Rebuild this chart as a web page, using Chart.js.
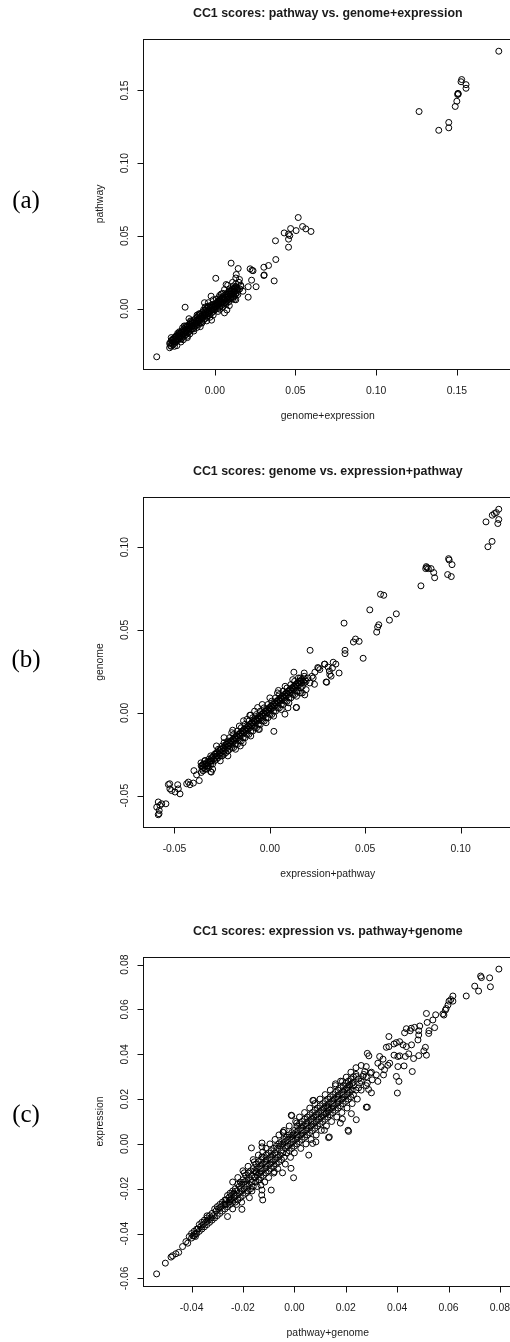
<!DOCTYPE html>
<html><head><meta charset="utf-8">
<script src="https://cdn.jsdelivr.net/npm/chart.js@4.4.0/dist/chart.umd.min.js"></script>
<style>
html,body{margin:0;padding:0;background:#fff;width:510px;height:1342px;overflow:hidden;position:relative}
canvas{position:absolute;left:0}
</style></head><body>
<canvas id="ca" width="520" height="440" style="top:0px"></canvas>
<canvas id="cb" width="520" height="440" style="top:440px"></canvas>
<canvas id="cc" width="520" height="462" style="top:880px"></canvas>
<script>
// ---------- Panel (a): pathway vs. genome+expression ----------
const titleA = "CC1 scores: pathway vs. genome+expression";
const xLabelA = "genome+expression";
const yLabelA = "pathway";
const xTicksA = [0, 0.05, 0.10, 0.15];
const xTickLabelsA = ["0.00", "0.05", "0.10", "0.15"];
const yTicksA = [0, 0.05, 0.10, 0.15];
const yTickLabelsA = ["0.00", "0.05", "0.10", "0.15"];
const pointsA = [
 [0.176,0.177],[0.153,0.1575],[0.1526,0.156],[0.1557,0.154],[0.1557,0.1515],[0.1507,0.148],[0.1505,0.1472],[0.1509,0.1476],
 [0.150,0.1426],[0.149,0.139],[0.1266,0.1355],[0.145,0.128],[0.145,0.1243],[0.1388,0.1226],
 [0.0517,0.0626],[0.0544,0.0564],[0.047,0.055],[0.0564,0.0548],[0.0504,0.0536],[0.0596,0.053],[0.043,0.052],[0.0457,0.0512],
 [0.0465,0.0502],[0.0457,0.0477],[0.0376,0.0466],[0.0457,0.0422],[0.0378,0.0337],[0.0333,0.0296],[0.0304,0.0284],[0.0304,0.0227],
 [0.0306,0.0231],[0.0368,0.019],[0.0219,0.0273],[0.0231,0.0263],[0.0237,0.026],[0.0228,0.0195],[0.0256,0.015],[0.0207,0.015],
 [0.0207,0.0078],[0.0101,0.0312],[0.0145,0.0275],[0.0006,0.0208],[-0.0184,0.0009],[-0.036,-0.0332],
 [0.007,0.0165],[0.0133,0.0234],[0.0153,0.020],[0.0163,0.0153],[0.0143,0.0096],[0.0174,0.0119],[0.0122,0.0062],[-0.0023,0.0085],
 [-0.0064,0.004],[0.006,-0.003],[-0.002,-0.008],[0.0075,-0.001],[0.009,0.002],[-0.020,-0.0133],[-0.0259,-0.0213],
 [-0.022,-0.016],[-0.017,-0.019],[-0.015,-0.009],[-0.013,-0.014],[-0.016,-0.007],[-0.008,-0.010],[-0.006,0.001],[-0.004,0.004],
 [-0.003,-0.006],[-0.001,0.006],[0.002,-0.002],[0.003,0.009],[0.005,0.001],[0.007,0.004],[0.008,0.016],[0.010,0.007],
 [0.011,0.018],[0.012,0.008],[0.013,0.021],[0.015,0.018],[0.016,0.016],[0.013,0.006],[0.004,0.010],[0.006,0.013],
 [-0.010,-0.004],[-0.018,-0.012],[-0.024,-0.019],[-0.011,-0.013],
 [-0.028,-0.027],[-0.028,-0.024],[-0.027,-0.026],[-0.027,-0.022],[-0.026,-0.025],[-0.026,-0.021],[-0.026,-0.023],
 [-0.025,-0.024],[-0.025,-0.020],[-0.024,-0.023],[-0.024,-0.019],[-0.024,-0.021],[-0.023,-0.022],[-0.023,-0.018],
 [-0.022,-0.021],[-0.022,-0.017],[-0.022,-0.019],[-0.021,-0.021],[-0.021,-0.016],[-0.020,-0.020],[-0.020,-0.015],[-0.020,-0.018],
 [-0.019,-0.019],[-0.019,-0.014],[-0.018,-0.018],[-0.018,-0.013],[-0.018,-0.016],[-0.017,-0.017],[-0.017,-0.012],
 [-0.016,-0.016],[-0.016,-0.011],[-0.016,-0.014],[-0.015,-0.015],[-0.015,-0.010],[-0.014,-0.014],[-0.014,-0.009],[-0.014,-0.012],
 [-0.013,-0.013],[-0.013,-0.008],[-0.012,-0.012],[-0.012,-0.007],[-0.012,-0.010],[-0.011,-0.011],[-0.011,-0.006],
 [-0.010,-0.011],[-0.010,-0.005],[-0.010,-0.008],[-0.009,-0.010],[-0.009,-0.004],[-0.008,-0.009],[-0.008,-0.003],[-0.008,-0.006],
 [-0.007,-0.008],[-0.007,-0.002],[-0.006,-0.007],[-0.006,-0.001],[-0.006,-0.004],[-0.005,-0.006],[-0.005,0.000],
 [-0.004,-0.005],[-0.004,0.001],[-0.004,-0.003],[-0.003,-0.004],[-0.003,0.001],[-0.002,-0.003],[-0.002,0.002],[-0.002,-0.001],
 [-0.001,-0.002],[-0.001,0.003],[0.000,-0.001],[0.000,0.003],[0.000,0.001],[0.001,0.000],[0.001,0.004],
 [0.002,0.000],[0.002,0.005],[0.002,0.003],[0.003,0.001],[0.003,0.006],[0.004,0.002],[0.004,0.007],[0.004,0.004],
 [0.005,0.003],[0.005,0.008],[0.006,0.004],[0.006,0.009],[0.006,0.006],[0.007,0.005],[0.007,0.010],
 [0.008,0.006],[0.008,0.011],[0.008,0.008],[0.009,0.007],[0.009,0.012],[0.010,0.007],[0.010,0.012],[0.010,0.010],
 [0.011,0.008],[0.011,0.013],[0.012,0.009],[0.012,0.014],[0.012,0.011],[0.013,0.010],[0.013,0.015],[0.014,0.011],[0.014,0.014]
];
const bandFillA = [
 [-0.0275,-0.0255],[-0.0275,-0.0235],[-0.0265,-0.024],[-0.0265,-0.022],[-0.0255,-0.023],[-0.0255,-0.021],[-0.0245,-0.0225],[-0.0245,-0.0195],
 [-0.0235,-0.0215],[-0.0235,-0.0195],[-0.0225,-0.020],[-0.0225,-0.0185],[-0.0215,-0.0195],[-0.0215,-0.0175],[-0.0205,-0.0185],[-0.0205,-0.0165],
 [-0.0195,-0.0175],[-0.0195,-0.016],[-0.0185,-0.017],[-0.0185,-0.015],[-0.0175,-0.0155],[-0.0175,-0.014],[-0.0165,-0.015],[-0.0165,-0.013],
 [-0.0155,-0.0135],[-0.0155,-0.012],[-0.0145,-0.013],[-0.0145,-0.011],[-0.0135,-0.0115],[-0.0135,-0.010],[-0.0125,-0.011],[-0.0125,-0.009],
 [-0.0115,-0.010],[-0.0115,-0.0085],[-0.0105,-0.009],[-0.0105,-0.0075],[-0.0095,-0.0085],[-0.0095,-0.0065],[-0.0085,-0.007],[-0.0085,-0.0055],
 [-0.0075,-0.0065],[-0.0075,-0.0045],[-0.0065,-0.005],[-0.0065,-0.0035],[-0.0055,-0.0045],[-0.0055,-0.003],[-0.0045,-0.0035],[-0.0045,-0.002],
 [-0.0035,-0.0025],[-0.0035,-0.001],[-0.0025,-0.0015],[-0.0025,0.000],[-0.0015,-0.001],[-0.0015,0.001],[-0.0005,0.000],[-0.0005,0.0015],
 [0.0005,0.001],[0.0005,0.0025],[0.0015,0.002],[0.0015,0.0035],[0.0025,0.003],[0.0025,0.0045],[0.0035,0.004],[0.0035,0.0055],
 [0.0045,0.0045],[0.0045,0.0065],[0.0055,0.0055],[0.0055,0.007],[0.0065,0.0065],[0.0065,0.008],[0.0075,0.0075],[0.0075,0.009],
 [0.0085,0.0085],[0.0085,0.010],[0.0095,0.0095],[0.0095,0.011],[0.0105,0.010],[0.0105,0.012],[0.0115,0.011],[0.0115,0.013],
 [0.0125,0.012],[0.0125,0.0135],[0.0135,0.0125],[0.0135,0.0145]
];
const spreadA = [
 [-0.027,-0.020],[-0.025,-0.026],[-0.023,-0.017],[-0.021,-0.023],[-0.019,-0.012],[-0.017,-0.020],[-0.015,-0.0085],[-0.013,-0.0155],
 [-0.011,-0.0045],[-0.009,-0.0125],[-0.007,-0.001],[-0.005,-0.0085],[-0.003,0.002],[-0.001,-0.0045],[0.001,0.0065],[0.003,-0.0005],
 [0.005,0.0105],[0.007,0.003],[0.009,0.0135],[0.011,0.0065],[0.013,0.017],[-0.0235,-0.0255],[-0.0195,-0.0215],[-0.0155,-0.0175],
 [-0.0095,-0.0035],[-0.0045,0.0015],[0.0025,0.0075],[0.0085,0.0045],[0.0115,0.0155],[0.0145,0.0125],[0.0155,0.0135]
];

// ---------- Panel (b): genome vs. expression+pathway ----------
const titleB = "CC1 scores: genome vs. expression+pathway";
const xLabelB = "expression+pathway";
const yLabelB = "genome";
const xTicksB = [-0.05, 0, 0.05, 0.10];
const xTickLabelsB = ["-0.05", "0.00", "0.05", "0.10"];
const yTicksB = [-0.05, 0, 0.05, 0.10];
const yTickLabelsB = ["-0.05", "0.00", "0.05", "0.10"];
const pointsB = [
 [0.120,0.1228],[0.1187,0.1208],[0.1177,0.1202],[0.1166,0.1192],[0.120,0.1166],[0.1195,0.1142],[0.1133,0.1152],[0.1165,0.1034],
 [0.1143,0.1002],[0.0937,0.093],[0.094,0.0922],[0.0955,0.0894],[0.0932,0.0834],[0.0951,0.0822],[0.082,0.0882],[0.0824,0.0876],
 [0.0817,0.087],[0.0831,0.087],[0.0845,0.087],[0.0859,0.0846],[0.0864,0.0815],[0.0792,0.0766],[0.058,0.0715],[0.0597,0.0709],
 [0.0524,0.0621],[0.0663,0.0597],[0.0627,0.0559],[0.0389,0.0541],[0.0571,0.0531],[0.0565,0.0517],[0.056,0.0487],[0.0449,0.0445],
 [0.0468,0.0431],[0.0438,0.0427],[0.0489,0.0329],[0.0394,0.0377],[0.0394,0.0357],[0.0211,0.0377],[0.0288,0.0294],[0.0332,0.0305],
 [0.0346,0.0294],[0.0328,0.027],[0.0305,0.0276],[0.0255,0.027],[0.0262,0.0261],[0.0363,0.024],[0.0314,0.0231],[0.0321,0.0221],
 [0.0298,0.0184],[0.0126,0.0245],[0.0236,0.0245],[0.0227,0.021],[0.0286,0.0293],[0.0295,0.0186],[0.0312,0.0252],[0.0234,0.0172],
 [0.0251,0.0273],
 [-0.0585,-0.0538],[-0.0567,-0.0549],[-0.0545,-0.0549],[-0.0593,-0.0569],[-0.058,-0.0589],[-0.0585,-0.0615],[-0.0576,-0.0559],[-0.0581,-0.0609],
 [-0.0532,-0.0433],[-0.0515,-0.0469],[-0.0497,-0.0478],[-0.048,-0.0459],[-0.0483,-0.0434],[-0.0524,-0.0459],[-0.0471,-0.0489],[-0.0525,-0.0428],
 [-0.0436,-0.0428],[-0.0427,-0.0418],[-0.0419,-0.0434],[-0.0401,-0.0424],[-0.0398,-0.0349],[-0.037,-0.0409],[-0.0384,-0.0374],
 [-0.0361,-0.0302],[-0.034,-0.0288],[-0.031,-0.0355],[-0.0307,-0.0358],
 [0.0021,-0.0112],[0.014,0.0032],[0.0079,-0.0008],[0.0183,0.0108],[-0.0101,-0.0014],[-0.0064,0.0032],[-0.0138,-0.0048],[0.0138,0.0032],
 [0.019,0.014],[0.021,0.018],[0.018,0.024],[0.016,0.021],[0.022,0.022],[0.017,0.012],
 [-0.036,-0.036],[-0.036,-0.032],[-0.035,-0.035],[-0.035,-0.031],[-0.035,-0.033],[-0.034,-0.034],[-0.034,-0.029],
 [-0.033,-0.034],[-0.033,-0.030],[-0.033,-0.032],[-0.032,-0.033],[-0.032,-0.028],[-0.031,-0.031],[-0.031,-0.026],[-0.031,-0.029],
 [-0.030,-0.031],[-0.030,-0.027],[-0.029,-0.029],[-0.029,-0.025],[-0.028,-0.028],[-0.028,-0.024],[-0.028,-0.026],
 [-0.027,-0.027],[-0.027,-0.022],[-0.026,-0.026],[-0.026,-0.022],[-0.026,-0.024],[-0.025,-0.026],[-0.025,-0.020],
 [-0.024,-0.025],[-0.024,-0.021],[-0.024,-0.018],[-0.023,-0.024],[-0.023,-0.019],[-0.022,-0.023],[-0.022,-0.020],[-0.022,-0.017],
 [-0.021,-0.022],[-0.021,-0.018],[-0.021,-0.015],[-0.020,-0.021],[-0.020,-0.017],[-0.019,-0.021],[-0.019,-0.016],[-0.019,-0.013],
 [-0.018,-0.019],[-0.018,-0.015],[-0.017,-0.019],[-0.017,-0.014],[-0.017,-0.011],[-0.016,-0.017],[-0.016,-0.013],
 [-0.015,-0.017],[-0.015,-0.012],[-0.015,-0.009],[-0.014,-0.015],[-0.014,-0.011],[-0.013,-0.015],[-0.013,-0.010],[-0.013,-0.007],
 [-0.012,-0.013],[-0.012,-0.009],[-0.011,-0.013],[-0.011,-0.008],[-0.011,-0.005],[-0.010,-0.011],[-0.010,-0.007],
 [-0.009,-0.011],[-0.009,-0.006],[-0.009,-0.003],[-0.008,-0.009],[-0.008,-0.005],[-0.007,-0.009],[-0.007,-0.004],[-0.007,-0.001],
 [-0.006,-0.007],[-0.006,-0.003],[-0.005,-0.007],[-0.005,-0.002],[-0.005,0.001],[-0.004,-0.005],[-0.004,-0.001],
 [-0.003,-0.005],[-0.003,0.000],[-0.003,0.003],[-0.002,-0.003],[-0.002,0.001],[-0.001,-0.003],[-0.001,0.002],[-0.001,0.005],
 [0.000,-0.001],[0.000,0.003],[0.001,-0.001],[0.001,0.004],[0.001,0.007],[0.002,0.001],[0.002,0.005],
 [0.003,0.001],[0.003,0.006],[0.003,0.009],[0.004,0.003],[0.004,0.007],[0.005,0.003],[0.005,0.008],[0.005,0.011],
 [0.006,0.005],[0.006,0.009],[0.007,0.005],[0.007,0.010],[0.007,0.013],[0.008,0.007],[0.008,0.011],
 [0.009,0.007],[0.009,0.012],[0.009,0.015],[0.010,0.009],[0.010,0.013],[0.011,0.009],[0.011,0.014],[0.011,0.017],
 [0.012,0.011],[0.012,0.015],[0.013,0.011],[0.013,0.016],[0.013,0.019],[0.014,0.013],[0.014,0.017],
 [0.015,0.013],[0.015,0.018],[0.015,0.021],[0.016,0.015],[0.016,0.019],[0.017,0.016],[0.017,0.020],[0.018,0.018],[0.018,0.022],
 [0.019,0.019],[0.020,0.021]
];
const bandFillB = [
 [-0.0355,-0.034],[-0.0355,-0.032],[-0.0345,-0.033],[-0.0345,-0.031],[-0.0335,-0.031],[-0.0325,-0.030],[-0.0325,-0.032],[-0.0315,-0.029],
 [-0.0315,-0.030],[-0.0305,-0.029],[-0.0305,-0.027],[-0.0295,-0.028],[-0.0295,-0.026],[-0.0285,-0.027],[-0.0285,-0.025],[-0.0275,-0.026],
 [-0.0275,-0.024],[-0.0265,-0.025],[-0.0265,-0.023],[-0.0255,-0.024],[-0.0255,-0.022],[-0.0245,-0.023],[-0.0245,-0.021],[-0.0235,-0.022],
 [-0.0235,-0.020],[-0.0225,-0.021],[-0.0225,-0.019],[-0.0215,-0.020],[-0.0215,-0.018],[-0.0205,-0.019],[-0.0205,-0.017],[-0.0195,-0.018],
 [-0.0195,-0.016],[-0.0185,-0.017],[-0.0185,-0.015],[-0.0175,-0.016],[-0.0175,-0.014],[-0.0165,-0.015],[-0.0165,-0.013],[-0.0155,-0.014],
 [-0.0155,-0.012],[-0.0145,-0.013],[-0.0145,-0.011],[-0.0135,-0.012],[-0.0135,-0.010],[-0.0125,-0.011],[-0.0125,-0.009],[-0.0115,-0.010],
 [-0.0115,-0.008],[-0.0105,-0.009],[-0.0105,-0.007],[-0.0095,-0.008],[-0.0095,-0.006],[-0.0085,-0.007],[-0.0085,-0.005],[-0.0075,-0.006],
 [-0.0075,-0.004],[-0.0065,-0.005],[-0.0065,-0.003],[-0.0055,-0.004],[-0.0055,-0.002],[-0.0045,-0.003],[-0.0045,-0.001],[-0.0035,-0.002],
 [-0.0035,0.000],[-0.0025,-0.001],[-0.0025,0.001],[-0.0015,0.000],[-0.0015,0.002],[-0.0005,0.001],[-0.0005,0.003],[0.0005,0.002],
 [0.0005,0.004],[0.0015,0.003],[0.0015,0.005],[0.0025,0.004],[0.0025,0.006],[0.0035,0.005],[0.0035,0.007],[0.0045,0.006],
 [0.0045,0.008],[0.0055,0.007],[0.0055,0.009],[0.0065,0.008],[0.0065,0.010],[0.0075,0.009],[0.0075,0.011],[0.0085,0.010],
 [0.0085,0.012],[0.0095,0.011],[0.0095,0.013],[0.0105,0.012],[0.0105,0.014],[0.0115,0.013],[0.0115,0.015],[0.0125,0.014],
 [0.0125,0.016],[0.0135,0.015],[0.0135,0.017],[0.0145,0.016],[0.0145,0.018],[0.0155,0.017],[0.0155,0.019],[0.0165,0.018],
 [0.0165,0.020],[0.0175,0.019],[0.0185,0.020]
];
const spreadB = [
 [-0.030,-0.034],[-0.028,-0.020],[-0.026,-0.029],[-0.024,-0.015],[-0.022,-0.026],[-0.020,-0.012],[-0.018,-0.022],[-0.016,-0.008],
 [-0.014,-0.018],[-0.012,-0.004],[-0.010,-0.014],[-0.008,0.001],[-0.006,-0.010],[-0.004,0.005],[-0.002,-0.006],[0.000,0.009],
 [0.002,-0.002],[0.004,0.012],[0.006,0.002],[0.008,0.016],[0.010,0.006],[0.012,0.020],[0.014,0.010],[0.016,0.012],
 [-0.0195,-0.0105],[-0.0155,-0.020],[-0.0105,-0.0015],[-0.0055,-0.010],[0.0045,0.0135],[0.0095,0.003]
];

// ---------- Panel (c): expression vs. pathway+genome ----------
const titleC = "CC1 scores: expression vs. pathway+genome";
const xLabelC = "pathway+genome";
const yLabelC = "expression";
const xTicksC = [-0.04, -0.02, 0, 0.02, 0.04, 0.06, 0.08];
const xTickLabelsC = ["-0.04", "-0.02", "0.00", "0.02", "0.04", "0.06", "0.08"];
const yTicksC = [-0.06, -0.04, -0.02, 0, 0.02, 0.04, 0.06, 0.08];
const yTickLabelsC = ["-0.06", "-0.04", "-0.02", "0.00", "0.02", "0.04", "0.06", "0.08"];
const pointsC = [
 [0.0796,0.078],[0.0725,0.0749],[0.0728,0.0742],[0.076,0.0741],[0.0763,0.0701],[0.0702,0.0704],[0.0717,0.0682],[0.0669,0.066],
 [0.0617,0.066],[0.0609,0.0644],[0.0602,0.0637],[0.0617,0.0637],[0.0598,0.062],[0.0591,0.0604],[0.0588,0.0597],[0.0578,0.058],
 [0.0582,0.0575],[0.0514,0.0582],[0.055,0.0576],[0.0539,0.0553],[0.0517,0.0542],[0.0546,0.0519],[0.0524,0.0505],[0.0523,0.0493],
 [0.0488,0.0526],[0.0468,0.052],[0.0455,0.0516],[0.0436,0.0514],[0.0429,0.0496],[0.0451,0.0505],[0.0484,0.0505],[0.0484,0.0486],
 [0.0481,0.0464],[0.051,0.0431],[0.0504,0.0415],[0.0514,0.0396],[0.0484,0.0394],[0.0464,0.0381],[0.0459,0.0323],
 [0.0368,0.0479],[0.0388,0.0446],[0.0397,0.0452],[0.041,0.0456],[0.0423,0.0442],[0.0436,0.0434],[0.0456,0.0442],[0.0445,0.0402],
 [0.0432,0.039],[0.041,0.0393],[0.0403,0.039],[0.0368,0.0434],[0.0358,0.0431],[0.0388,0.0396],[0.0371,0.036],[0.0364,0.0351],
 [0.0345,0.0378],[0.0332,0.039],[0.0325,0.036],[0.0338,0.0345],[0.0351,0.0331],[0.0347,0.0308],[0.0403,0.0345],[0.0397,0.0301],
 [0.0407,0.0279],[0.0401,0.0227],[0.0427,0.0348],[0.0284,0.0404],[0.029,0.0393],[0.028,0.0345],[0.0274,0.0323],[0.0296,0.0316],
 [0.0319,0.0308],[0.0325,0.0279],[0.0303,0.0286],[0.0284,0.0271],[0.0289,0.0243],[0.030,0.0228],[0.0284,0.0164],[0.0267,0.0301],
 [0.0241,0.0301],[0.0254,0.0271],[0.016,0.0268],[0.0202,0.0298],[0.0187,0.0279],[0.0215,0.0264],[0.0228,0.0274],[0.0075,0.0194],
 [0.0241,0.0108],[0.0211,0.0056],[0.0222,0.0135],[0.0179,0.0093],[0.0187,0.0111],
 [-0.0536,-0.058],[-0.0502,-0.0532],[-0.0474,-0.0499],[-0.048,-0.0505],[-0.0461,-0.049],[-0.045,-0.0484],[-0.0435,-0.0458],
 [-0.0422,-0.0436],[-0.0409,-0.0413],[-0.0415,-0.0443],[-0.0385,-0.0413],
 [-0.001,0.0126],[-0.0043,0.0051],[0.0009,0.0093],[-0.0167,-0.0018],[-0.0126,0.0004],[-0.0126,-0.0013],[-0.0123,-0.0036],
 [-0.0126,-0.0058],[-0.0127,-0.0228],[-0.0126,-0.0206],[-0.0123,-0.025],[-0.013,-0.0184],[-0.0136,-0.0161],[-0.009,-0.0206],
 [-0.0195,-0.0129],[-0.0204,-0.0292],[-0.026,-0.0324],[-0.034,-0.0321],[-0.0046,-0.0129],[-0.0003,-0.0151],[-0.0013,-0.0109],
 [-0.0078,-0.0124],[0.0056,-0.005],[0.0136,0.0031],[0.0117,0.0061],[0.0084,0.0009],[0.0071,0.0002],[0.0123,0.0135],[0.013,0.0164],
 [-0.0156,-0.008],[-0.0149,-0.0124],[0.0072,0.0194],[-0.0012,0.0128],[-0.0044,0.0053],[0.0209,0.0061],[0.0133,0.0028],[0.028,0.0164],
 [-0.040,-0.042],[-0.040,-0.040],[-0.039,-0.041],[-0.039,-0.039],[-0.038,-0.040],[-0.038,-0.038],[-0.037,-0.039],[-0.037,-0.036],
 [-0.036,-0.038],[-0.036,-0.035],[-0.035,-0.037],[-0.035,-0.034],[-0.034,-0.036],[-0.034,-0.033],[-0.033,-0.035],[-0.033,-0.032],
 [-0.032,-0.034],[-0.032,-0.031],[-0.031,-0.033],[-0.031,-0.029],[-0.030,-0.032],[-0.030,-0.028],[-0.029,-0.031],[-0.029,-0.027],
 [-0.028,-0.030],[-0.028,-0.026],[-0.027,-0.029],[-0.027,-0.025],[-0.027,-0.027],[-0.026,-0.028],[-0.026,-0.023],
 [-0.025,-0.027],[-0.025,-0.022],[-0.025,-0.025],[-0.024,-0.026],[-0.024,-0.021],[-0.023,-0.026],[-0.023,-0.020],[-0.023,-0.023],
 [-0.022,-0.025],[-0.022,-0.018],[-0.021,-0.024],[-0.021,-0.017],[-0.021,-0.020],[-0.020,-0.023],[-0.020,-0.016],
 [-0.019,-0.022],[-0.019,-0.014],[-0.019,-0.018],[-0.018,-0.021],[-0.018,-0.013],[-0.017,-0.020],[-0.017,-0.012],[-0.017,-0.016],
 [-0.016,-0.019],[-0.016,-0.011],[-0.015,-0.017],[-0.015,-0.009],[-0.015,-0.013],[-0.014,-0.016],[-0.014,-0.008],
 [-0.013,-0.015],[-0.013,-0.007],[-0.013,-0.011],[-0.012,-0.014],[-0.012,-0.006],[-0.011,-0.013],[-0.011,-0.005],[-0.011,-0.009],
 [-0.010,-0.012],[-0.010,-0.004],[-0.009,-0.011],[-0.009,-0.003],[-0.009,-0.007],[-0.008,-0.010],[-0.008,-0.002],
 [-0.007,-0.009],[-0.007,-0.001],[-0.007,-0.005],[-0.006,-0.008],[-0.006,0.000],[-0.005,-0.007],[-0.005,0.001],[-0.005,-0.003],
 [-0.004,-0.006],[-0.004,0.002],[-0.003,-0.004],[-0.003,0.003],[-0.003,-0.001],[-0.002,-0.003],[-0.002,0.004],
 [-0.001,-0.002],[-0.001,0.005],[-0.001,0.002],[0.000,-0.001],[0.000,0.006],[0.001,0.000],[0.001,0.008],[0.001,0.004],
 [0.002,0.001],[0.002,0.009],[0.003,0.002],[0.003,0.010],[0.003,0.006],[0.004,0.003],[0.004,0.011],
 [0.005,0.004],[0.005,0.012],[0.005,0.008],[0.006,0.005],[0.006,0.013],[0.007,0.006],[0.007,0.014],[0.007,0.010],
 [0.008,0.007],[0.008,0.015],[0.009,0.008],[0.009,0.016],[0.009,0.012],[0.010,0.009],[0.010,0.017],
 [0.011,0.010],[0.011,0.018],[0.011,0.014],[0.012,0.011],[0.012,0.019],[0.013,0.012],[0.013,0.020],[0.013,0.016],
 [0.014,0.013],[0.014,0.021],[0.015,0.014],[0.015,0.022],[0.015,0.018],[0.016,0.015],[0.016,0.023],
 [0.017,0.016],[0.017,0.024],[0.017,0.020],[0.018,0.017],[0.018,0.025],[0.019,0.018],[0.019,0.026],[0.019,0.022],
 [0.020,0.019],[0.020,0.027],[0.021,0.020],[0.021,0.028],[0.021,0.024],[0.022,0.021],[0.022,0.029],
 [0.023,0.022],[0.023,0.030],[0.023,0.026],[0.024,0.024],[0.024,0.031],[0.025,0.025],[0.025,0.029],[0.026,0.028],[0.028,0.030],[0.030,0.032]
];
const bandFillC = [
 [-0.0395,-0.041],[-0.0385,-0.040],[-0.0375,-0.038],[-0.0365,-0.037],[-0.0355,-0.036],[-0.0345,-0.035],[-0.0335,-0.034],[-0.0325,-0.033],
 [-0.0315,-0.032],[-0.0305,-0.030],[-0.0295,-0.029],[-0.0285,-0.028],[-0.0275,-0.027],[-0.0265,-0.027],[-0.0265,-0.025],[-0.0255,-0.026],
 [-0.0255,-0.024],[-0.0245,-0.025],[-0.0245,-0.023],[-0.0235,-0.024],[-0.0235,-0.022],[-0.0225,-0.023],[-0.0225,-0.021],[-0.0215,-0.022],
 [-0.0215,-0.019],[-0.0205,-0.021],[-0.0205,-0.018],[-0.0195,-0.020],[-0.0195,-0.017],[-0.0185,-0.019],[-0.0185,-0.016],[-0.0175,-0.018],
 [-0.0175,-0.015],[-0.0165,-0.017],[-0.0165,-0.014],[-0.0155,-0.015],[-0.0155,-0.012],[-0.0145,-0.014],[-0.0145,-0.011],[-0.0135,-0.013],
 [-0.0135,-0.010],[-0.0125,-0.012],[-0.0125,-0.009],[-0.0115,-0.011],[-0.0115,-0.008],[-0.0105,-0.010],[-0.0105,-0.007],[-0.0095,-0.009],
 [-0.0095,-0.006],[-0.0085,-0.008],[-0.0085,-0.005],[-0.0075,-0.007],[-0.0075,-0.004],[-0.0065,-0.006],[-0.0065,-0.002],[-0.0055,-0.005],
 [-0.0055,-0.001],[-0.0045,-0.004],[-0.0045,0.000],[-0.0035,-0.002],[-0.0035,0.001],[-0.0025,-0.001],[-0.0025,0.002],[-0.0015,0.000],
 [-0.0015,0.003],[-0.0005,0.001],[-0.0005,0.004],[0.0005,0.002],[0.0005,0.005],[0.0015,0.003],[0.0015,0.006],[0.0025,0.004],
 [0.0025,0.007],[0.0035,0.005],[0.0035,0.008],[0.0045,0.006],[0.0045,0.009],[0.0055,0.007],[0.0055,0.010],[0.0065,0.008],
 [0.0065,0.011],[0.0075,0.009],[0.0075,0.012],[0.0085,0.010],[0.0085,0.013],[0.0095,0.011],[0.0095,0.014],[0.0105,0.012],
 [0.0105,0.015],[0.0115,0.013],[0.0115,0.016],[0.0125,0.014],[0.0125,0.017],[0.0135,0.015],[0.0135,0.018],[0.0145,0.016],
 [0.0145,0.019],[0.0155,0.017],[0.0155,0.020],[0.0165,0.018],[0.0165,0.021],[0.0175,0.019],[0.0175,0.022],[0.0185,0.020],
 [0.0185,0.023],[0.0195,0.021],[0.0195,0.024],[0.0205,0.022],[0.0205,0.025],[0.0215,0.023],[0.0215,0.026],[0.0225,0.024],[0.0225,0.027]
];
const spreadC = [
 [-0.024,-0.029],[-0.024,-0.017],[-0.022,-0.015],[-0.0225,-0.027],[-0.020,-0.012],[-0.0205,-0.026],[-0.018,-0.010],[-0.0175,-0.024],
 [-0.016,-0.007],[-0.0165,-0.021],[-0.014,-0.005],[-0.0145,-0.019],[-0.011,-0.002],[-0.0115,-0.017],[-0.0095,0.000],[-0.010,-0.015],
 [-0.0075,0.002],[-0.008,-0.013],[-0.006,0.004],[-0.0065,-0.011],[-0.004,0.006],[-0.0035,-0.009],[-0.002,0.008],[-0.0015,-0.006],
 [0.0005,0.010],[0.000,-0.004],[0.002,0.012],[0.0025,-0.002],[0.004,0.014],[0.0045,0.000],[0.006,0.016],[0.0065,0.002],
 [0.008,0.018],[0.0085,0.004],[0.010,0.020],[0.0105,0.006],[0.012,0.022],[0.0125,0.008],[0.014,0.024],[0.0145,0.010],
 [0.016,0.026],[0.0165,0.012],[0.018,0.028],[0.0185,0.014],[0.0205,0.016],[0.022,0.032],[0.0225,0.018],[0.024,0.034],
 [0.0245,0.020],[0.026,0.035],[0.026,0.024],[0.027,0.031],[0.028,0.026]
];

// axis limits (R default 4% extension of data range)
const xRangeA = [-0.0445, 0.1845], yRangeA = [-0.0416, 0.1854];
const xRangeB = [-0.0665, 0.1272], yRangeB = [-0.0689, 0.1302];
const xRangeC = [-0.0589, 0.0849], yRangeC = [-0.0634, 0.0834];

const FONT = '"Liberation Sans", Arial, Helvetica, sans-serif';
const TEXT = '#1a1a1a';

function rPlotPlugin(p) {
  return {
    id: 'rplot',
    afterDraw(chart) {
      const ctx = chart.ctx, a = chart.chartArea;
      const xs = chart.scales.x, ys = chart.scales.y;
      const L = Math.round(a.left) + 0.5, T = Math.round(a.top) + 0.5;
      const R = Math.round(a.right) + 0.5, B = Math.round(a.bottom) + 0.5;
      ctx.save();
      ctx.strokeStyle = '#111';
      ctx.lineWidth = 1;
      ctx.strokeRect(L, T, R - L, B - T);
      ctx.beginPath();
      p.xTicks.forEach(v => { const x = Math.round(xs.getPixelForValue(v)) + 0.5; ctx.moveTo(x, B); ctx.lineTo(x, B + 6); });
      p.yTicks.forEach(v => { const y = Math.round(ys.getPixelForValue(v)) + 0.5; ctx.moveTo(L, y); ctx.lineTo(L - 6, y); });
      ctx.stroke();
      ctx.fillStyle = TEXT;
      ctx.textAlign = 'center';
      ctx.textBaseline = 'middle';
      ctx.font = '10.4px ' + FONT;
      p.xTicks.forEach((v, i) => ctx.fillText(p.xTickLabels[i], xs.getPixelForValue(v), B + 22));
      p.yTicks.forEach((v, i) => {
        ctx.save(); ctx.translate(a.left - 18, ys.getPixelForValue(v)); ctx.rotate(-Math.PI / 2);
        ctx.fillText(p.yTickLabels[i], 0, 0); ctx.restore();
      });
      ctx.fillText(p.xLabel, (a.left + a.right) / 2, B + 47);
      ctx.save(); ctx.translate(100, (a.top + a.bottom) / 2); ctx.rotate(-Math.PI / 2);
      ctx.fillText(p.yLabel, 0, 0); ctx.restore();
      ctx.font = 'bold 12.4px ' + FONT;
      ctx.fillText(p.title, (a.left + a.right) / 2, a.top - 25);
      ctx.font = '25px "Liberation Serif", "Times New Roman", serif';
      ctx.fillStyle = '#000';
      ctx.fillText(p.panel, 26, p.panelY);
      ctx.restore();
    }
  };
}

function makePanel(id, pts, xr, yr, pad, p) {
  new Chart(document.getElementById(id), {
    type: 'scatter',
    data: { datasets: [{
      data: pts.map(q => ({ x: q[0], y: q[1] })),
      pointStyle: 'circle', pointRadius: 3, pointHoverRadius: 3,
      pointBorderWidth: 1, borderColor: '#000', backgroundColor: 'rgba(0,0,0,0)'
    }] },
    options: {
      responsive: false, animation: false, devicePixelRatio: 1, events: [],
      layout: { padding: pad },
      plugins: { legend: { display: false }, tooltip: { enabled: false }, title: { display: false } },
      scales: {
        x: { type: 'linear', display: false, min: xr[0], max: xr[1] },
        y: { type: 'linear', display: false, min: yr[0], max: yr[1] }
      }
    },
    plugins: [rPlotPlugin(p)]
  });
}

makePanel('ca', pointsA.concat(bandFillA, spreadA), xRangeA, yRangeA, { left: 143, right: 7.5, top: 39, bottom: 71 },
  { title: titleA, xLabel: xLabelA, yLabel: yLabelA, xTicks: xTicksA, xTickLabels: xTickLabelsA,
    yTicks: yTicksA, yTickLabels: yTickLabelsA, panel: '(a)', panelY: 201 });
makePanel('cb', pointsB.concat(bandFillB, spreadB), xRangeB, yRangeB, { left: 143, right: 7.5, top: 57, bottom: 53 },
  { title: titleB, xLabel: xLabelB, yLabel: yLabelB, xTicks: xTicksB, xTickLabels: xTickLabelsB,
    yTicks: yTicksB, yTickLabels: yTickLabelsB, panel: '(b)', panelY: 220 });
makePanel('cc', pointsC.concat(bandFillC, spreadC), xRangeC, yRangeC, { left: 143, right: 7.5, top: 77, bottom: 56 },
  { title: titleC, xLabel: xLabelC, yLabel: yLabelC, xTicks: xTicksC, xTickLabels: xTickLabelsC,
    yTicks: yTicksC, yTickLabels: yTickLabelsC, panel: '(c)', panelY: 235 });
</script>
</body></html>
